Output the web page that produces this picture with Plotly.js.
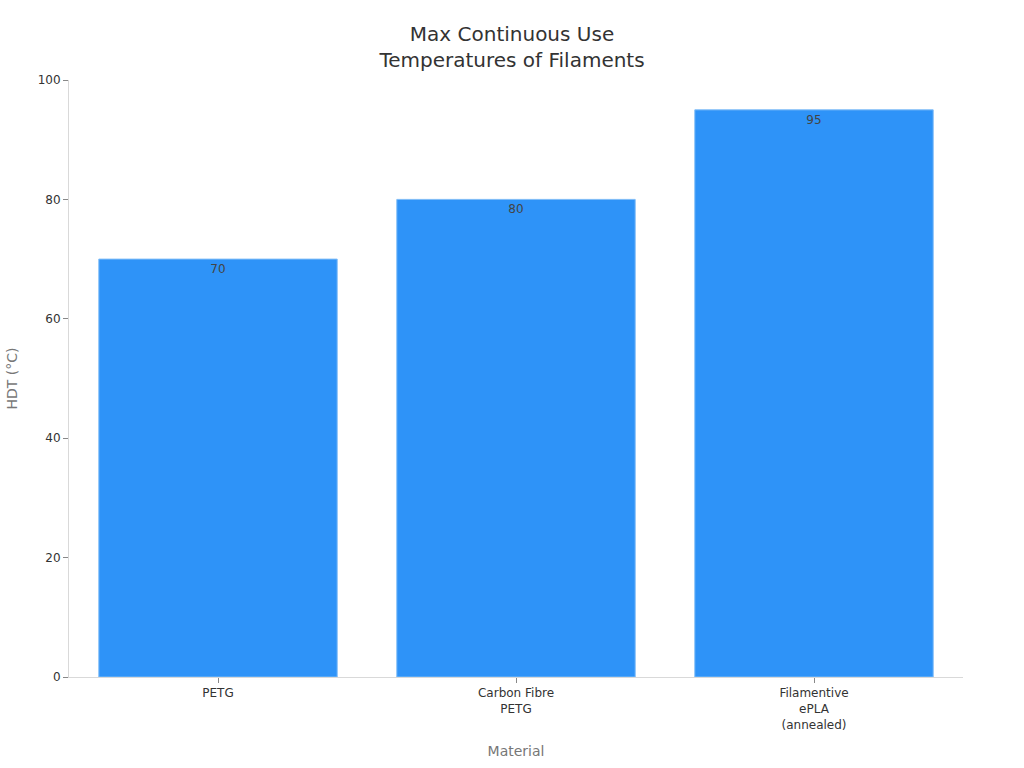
<!DOCTYPE html>
<html>
<head>
<meta charset="utf-8">
<script src="https://cdn.plot.ly/plotly-3.0.1.min.js"></script>
<style>html,body{margin:0;padding:0;background:#fff;}#chart{width:1024px;height:768px;}</style>
</head>
<body>
<div id="chart"></div>
<script>
const categories = ["PETG", "Carbon Fibre<br>PETG", "Filamentive<br>ePLA<br>(annealed)"];
const hdtValues = [70, 80, 95];
const valueLabels = ["70", "80", "95"];
const yTicks = [0, 20, 40, 60, 80, 100];

const FONT = "DejaVu Sans, sans-serif";

const trace = {
  type: "bar",
  x: categories,
  y: hdtValues,
  text: valueLabels,
  textposition: "inside",
  insidetextanchor: "end",
  textfont: {family: FONT, size: 12, color: "#444"},
  marker: {color: "#2e93f8", line: {color: "#7fbcf7", width: 1}},
  hoverinfo: "none"
};

const layout = {
  width: 1024, height: 768,
  margin: {l: 69, r: 61, t: 80, b: 91},
  paper_bgcolor: "#fff", plot_bgcolor: "#fff",
  font: {family: FONT, color: "#333"},
  bargap: 0.2,
  showlegend: false,
  title: {text: "Max Continuous Use<br>Temperatures of Filaments", x: 0.5, xanchor: "center", y: 0.947, yanchor: "top",
          font: {family: FONT, size: 20, color: "#333"}},
  xaxis: {
    title: {text: "Material", font: {family: FONT, size: 14, color: "#777"}, standoff: 15},
    tickfont: {family: FONT, size: 12, color: "#333"},
    showline: true, linecolor: "#d9d9d9", linewidth: 1,
    ticks: "outside", ticklen: 5, tickcolor: "#888",
    showgrid: false, zeroline: false
  },
  yaxis: {
    title: {text: "HDT (°C)", font: {family: FONT, size: 14, color: "#777"}, standoff: 16},
    tickfont: {family: FONT, size: 12, color: "#333"},
    range: [0, 100], tickvals: yTicks,
    showline: true, linecolor: "#d9d9d9", linewidth: 1,
    ticks: "outside", ticklen: 5, tickcolor: "#888",
    showgrid: false, zeroline: false
  }
};

Plotly.newPlot("chart", [trace], layout, {displayModeBar: false, staticPlot: true});
</script>
</body>
</html>
